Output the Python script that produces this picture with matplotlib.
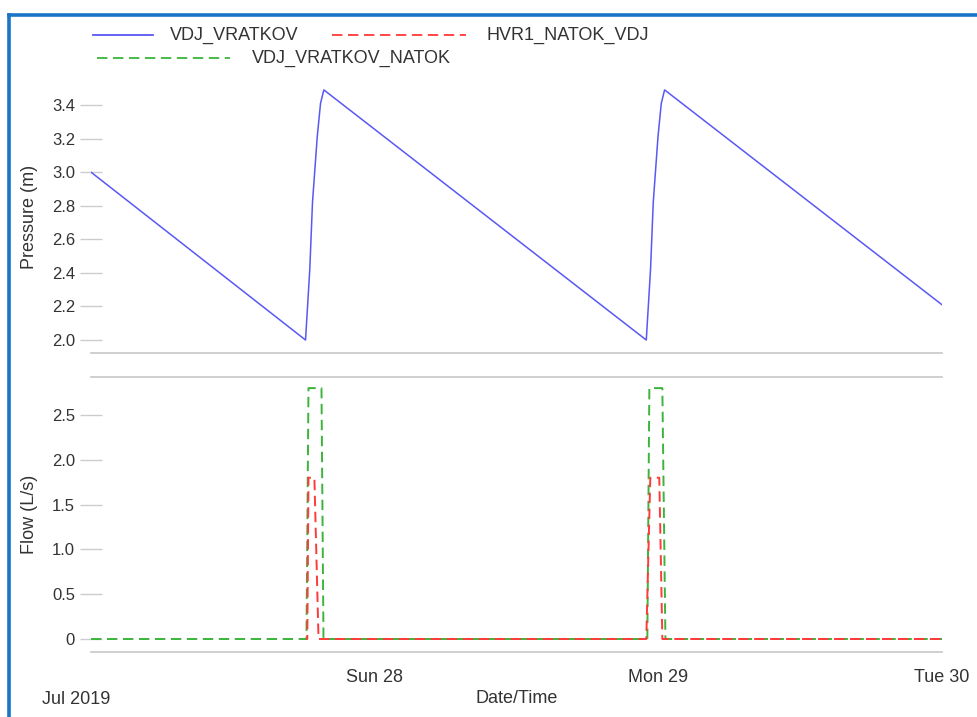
"""Pressure and flow at VDJ Vratkov over three days, two stacked panels."""

import matplotlib

matplotlib.use("Agg")
import matplotlib.dates as mdates
import matplotlib.pyplot as plt
import pandas as pd
from matplotlib.lines import Line2D

plt.rcParams["font.family"] = ["Liberation Sans", "DejaVu Sans"]
plt.rcParams["lines.scale_dashes"] = False

START = pd.Timestamp("2019-07-27 00:00")

# pressure of VDJ_VRATKOV, hours from start -> metres
pressure_hours = [0.0, 18.15, 18.51, 18.74, 19.14, 19.42, 19.70,
                  46.98, 47.34, 47.57, 47.97, 48.25, 48.53, 72.0]
pressure_values = [3.00, 2.00, 2.42, 2.82, 3.21, 3.41, 3.49,
                   2.00, 2.42, 2.82, 3.21, 3.41, 3.49, 2.21]

# inflow VDJ_VRATKOV_NATOK, hours -> L/s
natok_hours = [0.0, 18.23, 18.40, 19.50, 19.67, 47.07, 47.24, 48.34, 48.60, 72.0]
natok_values = [0.0, 0.0, 2.8, 2.8, 0.0, 0.0, 2.8, 2.8, 0.0, 0.0]

# HVR1_NATOK_VDJ, hours -> L/s (no data before the first fill)
hvr_hours = [18.20, 18.30, 18.40, 18.90, 19.25, 46.98, 47.32, 48.08, 48.34, 72.0]
hvr_values = [0.0, 0.0, 1.8, 1.8, 0.0, 0.0, 1.8, 1.8, 0.0, 0.0]

pressure_ticks = [2.0, 2.2, 2.4, 2.6, 2.8, 3.0, 3.2, 3.4]
flow_ticks = [0, 0.5, 1.0, 1.5, 2.0, 2.5]
flow_tick_labels = ["0", "0.5", "1.0", "1.5", "2.0", "2.5"]
day_ticks = ["2019-07-28", "2019-07-29", "2019-07-30"]

BLUE = "#5858f4"
RED = "#ff3a3a"
GREEN = "#3cb43c"
GRID = "#cccccc"
TEXT = "#333333"
DASH = (7.5, 4.0)


def to_time(hours):
    return [START + pd.Timedelta(hours=h) for h in hours]


def style_axis(axis):
    for side in ("left", "right", "top", "bottom"):
        axis.spines[side].set_visible(False)
    axis.tick_params(axis="y", direction="inout", length=16, width=1,
                     color=GRID, labelsize=12, labelcolor=TEXT, pad=3.5)
    axis.tick_params(axis="x", length=0, labelsize=13, labelcolor=TEXT, pad=12)


W, H = 978, 717
fig = plt.figure(figsize=(W / 100, H / 100), dpi=100)
left, right = 91 / W, 942 / W
ax_p = fig.add_axes([left, 1 - 353 / H, right - left, (353 - 80) / H])
ax_f = fig.add_axes([left, 1 - 652 / H, right - left, (652 - 377) / H], sharex=ax_p)

ax_p.plot(to_time(pressure_hours), pressure_values, color=BLUE, lw=1.1)
style_axis(ax_p)
ax_p.spines["bottom"].set_visible(True)
ax_p.spines["bottom"].set_color(GRID)
ax_p.spines["bottom"].set_linewidth(1.3)
ax_p.set_ylim(1.9226, 3.549)
ax_p.set_yticks(pressure_ticks, [f"{v:.1f}" for v in pressure_ticks])
ax_p.tick_params(axis="x", labelbottom=False)
ax_p.set_ylabel("Pressure (m)", fontsize=13, color=TEXT)

ax_f.plot(to_time(natok_hours), natok_values, color=GREEN, lw=1.4, dashes=DASH)
ax_f.plot(to_time(hvr_hours), hvr_values, color=RED, lw=1.4,
          dashes=(DASH[0] / 2, DASH[1], DASH[0] / 2, 0.0))
style_axis(ax_f)
for side in ("top", "bottom"):
    ax_f.spines[side].set_visible(True)
    ax_f.spines[side].set_color(GRID)
    ax_f.spines[side].set_linewidth(1.3)
ax_f.set_ylim(-0.145, 2.924)
ax_f.set_yticks(flow_ticks, flow_tick_labels)
ax_f.set_ylabel("Flow (L/s)", fontsize=13, color=TEXT)

ax_f.set_xlim(START, START + pd.Timedelta(hours=72))
ax_f.set_xticks(pd.to_datetime(day_ticks))
ax_f.xaxis.set_major_formatter(mdates.DateFormatter("%a %d"))
ax_f.set_xlabel("Date/Time", fontsize=13, color=TEXT, labelpad=3)
fig.text(76 / W, 1 - 700 / H, "Jul 2019", fontsize=13, color=TEXT,
         ha="center", va="center")

ax_p.yaxis.set_label_coords(-(91 - 38) / 851, 0.5)
ax_f.yaxis.set_label_coords(-(91 - 38) / 851, 0.5)

# legend drawn by hand, the entries sit on an irregular grid
legend_rows = [
    ((93, 153), 35, BLUE, None, "VDJ_VRATKOV", 170),
    ((332, 466), 35, RED, DASH, "HVR1_NATOK_VDJ", 487),
    ((97, 230), 58, GREEN, DASH, "VDJ_VRATKOV_NATOK", 252),
]
for (x0, x1), y, colour, dash, label, tx in legend_rows:
    handle = Line2D([x0 / W, x1 / W], [1 - y / H, 1 - y / H], color=colour,
                    lw=1.3, transform=fig.transFigure)
    if dash:
        handle.set_dashes(dash)
    fig.add_artist(handle)
    fig.text(tx / W, 1 - y / H, label, fontsize=13, color=TEXT, va="center")

# blue frame around the panel (only top and left edges are in view)
frame_x, frame_y = 9, 15
fig.add_artist(Line2D([frame_x / W, 1.0], [1 - frame_y / H, 1 - frame_y / H],
                      color="#1a74c8", lw=2.6, transform=fig.transFigure))
fig.add_artist(Line2D([frame_x / W, frame_x / W], [0.0, 1 - frame_y / H],
                      color="#1a74c8", lw=2.6, transform=fig.transFigure))

fig.savefig("out.png", dpi=100)
